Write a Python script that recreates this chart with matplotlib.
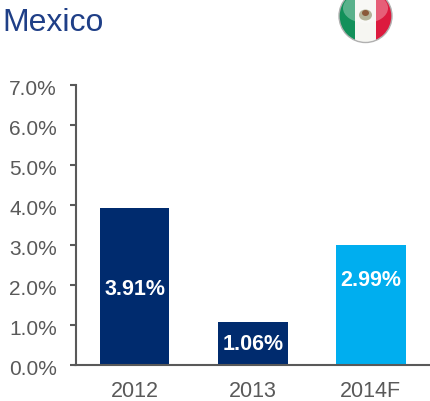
import matplotlib
matplotlib.use('Agg')
import matplotlib.pyplot as plt
from matplotlib.patches import Circle, Rectangle, Ellipse
from matplotlib.transforms import ScaledTranslation

categories = ['2012', '2013', '2014F']
values = [3.91, 1.06, 2.99]
value_labels = ['3.91%', '1.06%', '2.99%']
bar_colors = ['#002B6E', '#002B6E', '#00AEEF']
yticks = [0, 1, 2, 3, 4, 5, 6, 7]

plt.rcParams['font.family'] = ['Liberation Sans', 'DejaVu Sans']
GREY = '#595959'

fig = plt.figure(figsize=(4.3, 4.02), dpi=100)
ax = fig.add_axes([75.5 / 430, 36.5 / 402, 354.5 / 430, 280 / 402])

# Bars
x = range(len(categories))
bars = ax.bar(x, values, width=0.59, color=bar_colors)
ax.set_xlim(-0.5, 2.5)
ax.set_ylim(0, 7)

# Value labels inside the bars
label_y = [1.9, 0.52, 2.12]
for i, v in enumerate(value_labels):
    ax.text(i, label_y[i], v, color='white', fontsize=15.5, fontweight='bold',
            ha='center', va='center')

# Axes
ax.spines['top'].set_visible(False)
ax.spines['right'].set_visible(False)
ax.spines['left'].set_color(GREY)
ax.spines['bottom'].set_color(GREY)
ax.spines['left'].set_linewidth(1.5)
ax.spines['bottom'].set_linewidth(1.5)
ax.set_xticks(list(x))
ax.set_xticklabels(categories)
ax.set_yticks(yticks)
ax.set_yticklabels(['%.1f%%' % t for t in yticks])
ax.tick_params(axis='x', length=0, labelsize=15.5, labelcolor=GREY, pad=11)
ax.tick_params(axis='y', length=4.5, width=1.5, color=GREY, labelsize=15,
               labelcolor=GREY, pad=9)
# y labels sit a bit under their ticks
shift = ScaledTranslation(0, -2 / 100, fig.dpi_scale_trans)
for lab in ax.get_yticklabels():
    lab.set_transform(lab.get_transform() + shift)

# Title
fig.text(2 / 430, 1 - 23 / 402, 'Mexico', color='#1F3F87', fontsize=23,
         ha='left', va='center')

# Flag icon
flag = fig.add_axes([0, 0, 1, 1], zorder=5)
flag.set_xlim(0, 430)
flag.set_ylim(402, 0)
flag.axis('off')
flag.patch.set_alpha(0)
cx, cy, r = 365.5, 17, 26.5
clip = Circle((cx, cy), r, transform=flag.transData)
for x0, w, c in [(cx - r, r * 0.62, '#12905A'), (cx - r * 0.38, r * 0.76, '#F6F6F2'),
                 (cx + r * 0.38, r * 0.62, '#DC1A3E')]:
    s = Rectangle((x0, cy - r), w, 2 * r, color=c, lw=0)
    flag.add_patch(s)
    s.set_clip_path(clip)
# Gloss over the top of the ball
gloss = Ellipse((cx, cy - 8), 2 * r * 0.85, 30, color='white', alpha=0.3, lw=0)
flag.add_patch(gloss)
gloss.set_clip_path(clip)
# Emblem
flag.add_patch(Ellipse((cx, cy - 1), 13, 11, color='#B4B49A', lw=0))
flag.add_patch(Ellipse((cx, cy - 3), 7, 6, color='#8A5A3A', lw=0))
# Rim
flag.add_patch(Circle((cx, cy), r, fill=False, ec='#B0B0B0', lw=1))

fig.savefig('out.png', dpi=100)
